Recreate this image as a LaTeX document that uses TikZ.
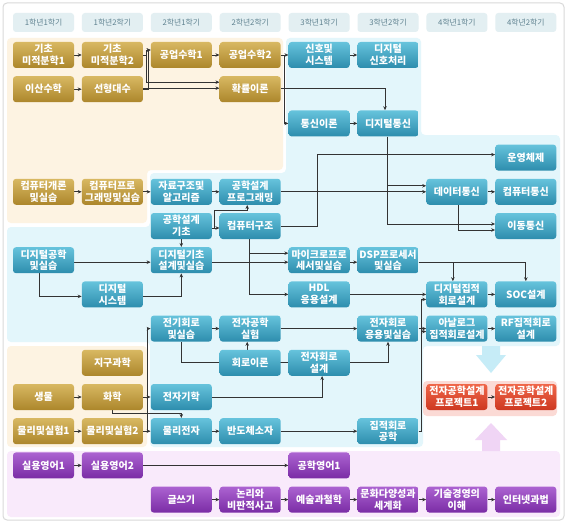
\documentclass[tikz,border=0pt]{standalone}
\usepackage{fontspec}
\newfontfamily\kr{Noto Sans CJK KR}
\usetikzlibrary{arrows.meta,calc}
\pgfdeclarelayer{background}
\pgfdeclarelayer{edges}
\pgfsetlayers{background,edges,main}
\definecolor{goldA}{HTML}{D8B862}
\definecolor{goldB}{HTML}{AC862B}
\definecolor{tealA}{HTML}{66C3DC}
\definecolor{tealB}{HTML}{2D8DAD}
\definecolor{purA}{HTML}{AC63D1}
\definecolor{purB}{HTML}{7A2CA5}
\definecolor{redA}{HTML}{EF6649}
\definecolor{redB}{HTML}{CD3820}
\definecolor{bgor}{HTML}{FDF3E2}
\definecolor{bgbl}{HTML}{E3F6FB}
\definecolor{bgpu}{HTML}{F9EAFB}
\definecolor{bgrd}{HTML}{FBDAD5}
\definecolor{hdrfill}{HTML}{E3EFF2}
\definecolor{hdrtxt}{HTML}{5F8290}
\definecolor{framec}{HTML}{D9D9D9}
\definecolor{linec}{HTML}{333333}
\definecolor{downar}{HTML}{C6ECF7}
\definecolor{upar}{HTML}{F0D5F5}
\tikzset{
  box/.style={rounded corners=3pt, minimum width=61pt, minimum height=26pt, inner sep=0pt,
    align=center, text=white, font=\kr\bfseries\fontsize{10}{11.8}\selectfont},
  goldbox/.style={box, top color=goldA, bottom color=goldB},
  tealbox/.style={box, top color=tealA, bottom color=tealB},
  purbox/.style={box, top color=purA, bottom color=purB},
  redbox/.style={box, top color=redA, bottom color=redB},
  hdrbox/.style={rounded corners=3pt, minimum width=61pt, minimum height=19pt, inner sep=0pt,
    fill=hdrfill, text=hdrtxt, font=\kr\fontsize{7.8}{9}\selectfont},
  arr/.style={draw=linec, line width=0.8pt, -{Stealth[length=4pt,width=3.5pt]}},
  plainline/.style={draw=linec, line width=0.8pt}
}
\begin{document}
\begin{tikzpicture}[x=1pt,y=-1pt]
\useasboundingbox (0,0) rectangle (567,524);
\begin{pgfonlayer}{background}
\draw[framec, line width=1pt, fill=white, rounded corners=4pt] (3,3) rectangle (564,520);
\fill[bgor, rounded corners=4pt] (7,38) -- (283,38) -- (283,170) -- (147,170) -- (147,223) -- (7,223) -- cycle;
\fill[bgbl, rounded corners=4pt] (286,38) -- (421,38) -- (421,135) -- (560,135) -- (560,346) -- (423,346) -- (423,447) -- (150,447) -- (150,342) -- (7,342) -- (7,227) -- (150,227) -- (150,173) -- (286,173) -- cycle;
\fill[bgor, rounded corners=4pt] (7,346) rectangle (147,447);
\fill[bgpu, rounded corners=4pt] (7,451) rectangle (560,517);
\fill[bgrd, rounded corners=4pt] (423,381) rectangle (557,416);
\fill[downar] (482,346) -- (500,346) -- (500,355) -- (506,355) -- (491,373) -- (476,355) -- (482,355) -- cycle;
\fill[upar] (482,451) -- (500,451) -- (500,440) -- (507,440) -- (491,423) -- (475,440) -- (482,440) -- cycle;
\end{pgfonlayer}

% headers
\node[hdrbox] (h1) at (43.5,22.5) {1학년1학기};
\node[hdrbox] (h2) at (112.4,22.5) {1학년2학기};
\node[hdrbox] (h3) at (181.3,22.5) {2학년1학기};
\node[hdrbox] (h4) at (250.2,22.5) {2학년2학기};
\node[hdrbox] (h5) at (319.1,22.5) {3학년1학기};
\node[hdrbox] (h6) at (388.0,22.5) {3학년2학기};
\node[hdrbox] (h7) at (456.9,22.5) {4학년1학기};
\node[hdrbox] (h8) at (525.8,22.5) {4학년2학기};

% row 0
\node[goldbox] (gc1) at (43.5,55) {기초\\미적분학1};
\node[goldbox] (gc2) at (112.4,55) {기초\\미적분학2};
\node[goldbox] (gs1) at (181.3,55) {공업수학1};
\node[goldbox] (gs2) at (250.2,55) {공업수학2};
\node[tealbox] (sig) at (319.1,55) {신호및\\시스템};
\node[tealbox] (dsp) at (388.0,55) {디지털\\신호처리};
% row 1
\node[goldbox] (dis) at (43.5,89.2) {이산수학};
\node[goldbox] (lin) at (112.4,89.2) {선형대수};
\node[goldbox] (prob) at (250.2,89.2) {확률이론};
% row 2
\node[tealbox] (comth) at (319.1,123.4) {통신이론};
\node[tealbox] (dcom) at (388.0,123.4) {디지털통신};
% row 3
\node[tealbox] (os) at (525.8,157.6) {운영체제};
% row 4
\node[goldbox] (cin) at (43.5,191.8) {컴퓨터개론\\및실습};
\node[goldbox] (cprog) at (112.4,191.8) {컴퓨터프로\\그래밍및실습};
\node[tealbox] (dsa) at (181.3,191.8) {자료구조및\\알고리즘};
\node[tealbox] (epg) at (250.2,191.8) {공학설계\\프로그래밍};
\node[tealbox] (data) at (456.9,191.8) {데이터통신};
\node[tealbox] (ccom) at (525.8,191.8) {컴퓨터통신};
% row 5
\node[tealbox] (edb) at (181.3,226) {공학설계\\기초};
\node[tealbox] (carch) at (250.2,226) {컴퓨터구조};
\node[tealbox] (mob) at (525.8,226) {이동통신};
% row 6
\node[tealbox] (dig) at (43.5,260.2) {디지털공학\\및실습};
\node[tealbox] (dbd) at (181.3,260.2) {디지털기초\\설계및실습};
\node[tealbox] (mp) at (319.1,260.2) {마이크로프로\\세서및실습};
\node[tealbox] (dspp) at (388.0,260.2) {DSP프로세서\\및실습};
% row 7
\node[tealbox] (dsys) at (112.4,294.4) {디지털\\시스템};
\node[tealbox] (hdl) at (319.1,294.4) {HDL\\응용설계};
\node[tealbox] (dic) at (456.9,294.4) {디지털집적\\회로설계};
\node[tealbox] (soc) at (525.8,294.4) {SOC설계};
% row 8
\node[tealbox] (ec) at (181.3,328.6) {전기회로\\및실습};
\node[tealbox] (eel) at (250.2,328.6) {전자공학\\실험};
\node[tealbox] (eca) at (388.0,328.6) {전자회로\\응용및실습};
\node[tealbox] (ana) at (456.9,328.6) {아날로그\\집적회로설계};
\node[tealbox] (rf) at (525.8,328.6) {RF집적회로\\설계};
% row 9
\node[goldbox] (earth) at (112.4,362.8) {지구과학};
\node[tealbox] (ct) at (250.2,362.8) {회로이론};
\node[tealbox] (ecd) at (319.1,362.8) {전자회로\\설계};
% row 10
\node[goldbox] (bio) at (43.5,397) {생물};
\node[goldbox] (chem) at (112.4,397) {화학};
\node[tealbox] (emag) at (181.3,397) {전자기학};
\node[redbox] (pj1) at (456.9,397) {전자공학설계\\프로젝트1};
\node[redbox] (pj2) at (525.8,397) {전자공학설계\\프로젝트2};
% row 11
\node[goldbox] (ph1) at (43.5,431.2) {물리및실험1};
\node[goldbox] (ph2) at (112.4,431.2) {물리및실험2};
\node[tealbox] (pe) at (181.3,431.2) {물리전자};
\node[tealbox] (semi) at (250.2,431.2) {반도체소자};
\node[tealbox] (ice) at (388.0,431.2) {집적회로\\공학};
% row 12
\node[purbox] (en1) at (43.5,465.4) {실용영어1};
\node[purbox] (en2) at (112.4,465.4) {실용영어2};
\node[purbox] (een) at (319.1,465.4) {공학영어1};
% row 13
\node[purbox] (wr) at (181.3,499.6) {글쓰기};
\node[purbox] (logic) at (250.2,499.6) {논리와\\비판적사고};
\node[purbox] (art) at (319.1,499.6) {예술과철학};
\node[purbox] (cult) at (388.0,499.6) {문화다양성과\\세계화};
\node[purbox] (tech) at (456.9,499.6) {기술경영의\\이해};
\node[purbox] (law) at (525.8,499.6) {인터넷과법};

\begin{pgfonlayer}{edges}
\draw[arr] (gc1.east) -- (gc2.west);
\draw[arr] (dis.east) -- (lin.west);
\draw[arr] (gc2.east) -- ++(3,0) |- ([yshift=5pt]gs1.west);
\draw[arr] (gc2.east) -- ++(3,0) |- ([yshift=7pt]prob.west);
\draw[arr] (lin.east) -- ++(5,0) |- ([yshift=5pt]gs1.west);
\draw[arr] ([yshift=1pt]lin.east) -- ([yshift=1pt]prob.west);
\draw[arr] (gs1.east) -- (gs2.west);
\draw[arr] (gs2.east) -- (sig.west);
\draw[arr] (gs2.east) -- ++(3,0) |- (comth.west);
\draw[arr] ([yshift=1pt]prob.east) -| ([xshift=-3pt]dcom.north);
\draw[arr] (sig.east) -- (dsp.west);
\draw[arr] (comth.east) -- (dcom.west);
\draw[arr] ([xshift=-1pt]dcom.south) |- ([yshift=6pt]data.west);
\draw[arr] ([xshift=-1pt]dcom.south) |- ([yshift=2pt]mob.west);
\draw[arr] (carch.east) -- ++(36,0) |- ([yshift=3pt]os.west);
\draw[arr] (epg.east) -- (data.west);
\draw[arr] (data.east) -- (ccom.west);
\draw[arr] ([xshift=1pt]data.south) |- ([yshift=-4pt]mob.west);
\draw[arr] (cin.east) -- (cprog.west);
\draw[arr] (cprog.east) -- (dsa.west);
\draw[arr] (dsa.east) -- (epg.west);
\draw[arr] ([yshift=-2pt]edb.east) -- ([yshift=-2pt]carch.west);
\draw[arr] ([yshift=-2pt]edb.east) -- ++(2,0) -- ++(0,-18) -| ([xshift=-3pt]epg.south);
\draw[arr] (edb.south) -- (dbd.north);
\draw[arr] ([yshift=-2pt]dig.east) -- ([yshift=-2pt]dbd.west);
\draw[arr] ([xshift=-4pt]dig.south) |- ([yshift=-2pt]dsys.west);
\draw[arr] ([yshift=-2pt]dsys.east) -| (dbd.south);
\draw[arr] ([xshift=-1pt]carch.south) |- ([yshift=7pt]mp.west);
\draw[arr] ([yshift=-2pt]dbd.east) -- ([yshift=-2pt]mp.west);
\draw[arr] ([yshift=-2pt]mp.east) -- ([yshift=-2pt]dspp.west);
\draw[arr] ([xshift=-1pt]carch.south) |- (hdl.west);
\draw[arr] (hdl.east) -- (dic.west);
\draw[arr] ([yshift=-2pt]dspp.east) -| ([xshift=-4pt]dic.north);
\draw[arr] ([yshift=-2pt]dspp.east) -| (soc.north);
\draw[arr] (dic.east) -- (soc.west);
\draw[arr] (ice.east) -- ++(3,0) |- ([yshift=-5pt]dic.west);
\draw[arr] (ice.east) -- ++(3,0) |- ([yshift=-3pt]ana.west);
\draw[arr] (eca.east) -- (ana.west);
\draw[arr] (ana.east) -- (rf.west);
\draw[arr] (ec.east) -- (eel.west);
\draw[arr] (eel.east) -- (eca.west);
\draw[arr] ([xshift=-3pt]ct.north) -- ([xshift=-3pt]eel.south);
\draw[plainline] (ec.south) |- (ecd.west);
\draw[arr] (ecd.east) -| (eca.south);
\draw[arr] (emag.east) -| ([xshift=3pt]ecd.south);
\draw[arr] (pe.east) -- (semi.west);
\draw[arr] (semi.east) -- (ice.west);
\draw[arr] (bio.east) -- (chem.west);
\draw[arr] (chem.east) -- (emag.west);
\draw[arr] (chem.east) -- ++(4,0) |- (ec.west);
\draw[arr] (ph2.east) -- (pe.west);
\draw[plainline] (ph2.east) -- ++(4,0) -- ++(0,-34.2);
\draw[arr] (chem.south) -- ++(0,3) -| (pe.north);
\draw[arr] (ph1.east) -- (ph2.west);
\draw[arr] (en1.east) -- (en2.west);
\draw[arr] (en2.east) -- (een.west);
\draw[arr] (wr.east) -- (logic.west);
\draw[arr] (logic.east) -- (art.west);
\draw[arr] (art.east) -- (cult.west);
\draw[arr] (cult.east) -- (tech.west);
\draw[arr] (tech.east) -- (law.west);
\draw[arr] (pj1.east) -- (pj2.west);
\end{pgfonlayer}
\end{tikzpicture}
\end{document}
